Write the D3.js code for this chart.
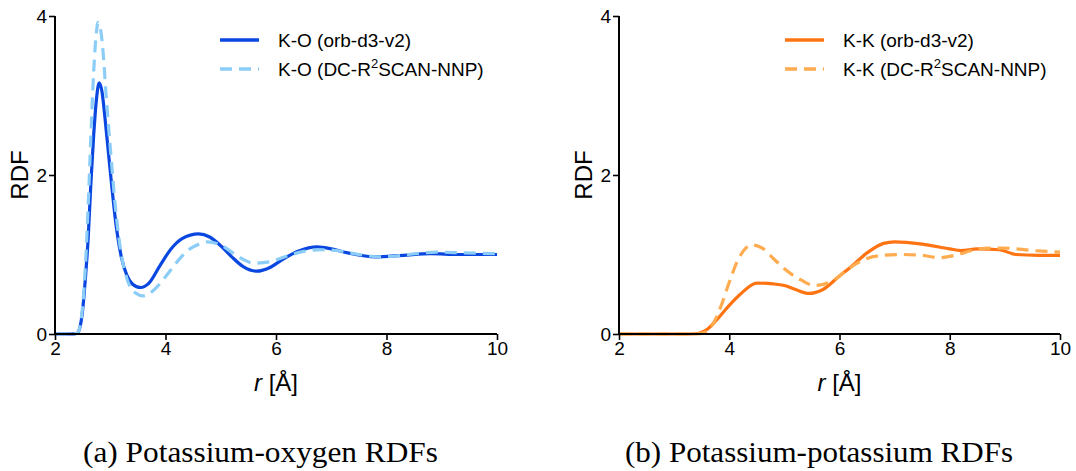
<!DOCTYPE html>
<html lang="en">
<head>
<meta charset="utf-8">
<title>K RDFs</title>
<script src="https://cdn.jsdelivr.net/npm/d3@7"></script>
<style>
  body { margin: 0; background: #fff; }
  text { font-family: "Liberation Sans", Arial, sans-serif; fill: #000; }
  text.caption { font-family: "Liberation Serif", "DejaVu Serif", serif; }
</style>
</head>
<body>
<script>
// K-O, orb-d3-v2
var koOrbR = [2.0, 2.3, 2.4, 2.45, 2.5, 2.55, 2.6, 2.65, 2.7, 2.75, 2.8, 2.85, 2.9, 2.95, 3.0, 3.1, 3.2, 3.3, 3.4, 3.55, 3.7, 3.9, 4.1, 4.3, 4.6, 4.8, 5.0, 5.2, 5.4, 5.65, 5.9, 6.1, 6.4, 6.75, 7.0, 7.3, 7.8, 8.3, 8.8, 9.3, 10];
var koOrbG = [0, 0, 0.01, 0.08, 0.3, 0.7, 1.2, 1.9, 2.5, 2.95, 3.16, 3.05, 2.75, 2.4, 2.05, 1.4, 0.97, 0.74, 0.63, 0.585, 0.64, 0.86, 1.07, 1.2, 1.26, 1.22, 1.11, 0.97, 0.85, 0.79, 0.84, 0.93, 1.04, 1.095, 1.07, 1.02, 0.97, 0.99, 1.01, 1.0, 1.0];
// K-O, DC-r2SCAN-NNP
var koNnpR = [2.0, 2.3, 2.4, 2.45, 2.5, 2.55, 2.6, 2.65, 2.7, 2.75, 2.78, 2.82, 2.87, 2.92, 3.0, 3.1, 3.2, 3.3, 3.45, 3.6, 3.8, 4.0, 4.2, 4.4, 4.6, 4.75, 5.0, 5.2, 5.4, 5.6, 5.9, 6.2, 6.5, 6.8, 7.1, 7.5, 7.9, 8.4, 8.9, 9.4, 10];
var koNnpG = [0, 0, 0.01, 0.09, 0.35, 0.85, 1.6, 2.5, 3.3, 3.8, 3.92, 3.85, 3.55, 3.05, 2.35, 1.55, 1.0, 0.7, 0.52, 0.48, 0.56, 0.72, 0.9, 1.05, 1.13, 1.16, 1.12, 1.03, 0.94, 0.89, 0.91, 0.98, 1.04, 1.06, 1.05, 1.0, 0.97, 1.0, 1.03, 1.02, 1.01];
// K-K, orb-d3-v2
var kkOrbR = [2.0, 3.3, 3.45, 3.6, 3.8, 4.0, 4.2, 4.5, 4.8, 5.0, 5.2, 5.45, 5.7, 6.0, 6.2, 6.5, 6.8, 7.0, 7.5, 8.0, 8.2, 8.5, 8.9, 9.2, 9.6, 10];
var kkOrbG = [0, 0, 0.01, 0.06, 0.2, 0.36, 0.5, 0.64, 0.63, 0.61, 0.56, 0.51, 0.56, 0.73, 0.84, 1.02, 1.14, 1.16, 1.13, 1.07, 1.05, 1.07, 1.06, 1.0, 0.99, 0.99];
// K-K, DC-r2SCAN-NNP
var kkNnpR = [2.0, 3.4, 3.55, 3.7, 3.85, 4.0, 4.15, 4.3, 4.42, 4.6, 4.8, 5.0, 5.3, 5.55, 5.9, 6.2, 6.5, 6.8, 7.1, 7.5, 7.8, 8.1, 8.4, 8.7, 9.0, 9.5, 10];
var kkNnpG = [0, 0, 0.02, 0.12, 0.35, 0.65, 0.92, 1.08, 1.12, 1.08, 0.95, 0.82, 0.68, 0.61, 0.68, 0.84, 0.95, 0.99, 1.0, 0.99, 0.96, 0.99, 1.05, 1.08, 1.08, 1.05, 1.03];

var xTicks = [2, 4, 6, 8, 10];
var yTicks = [0, 2, 4];
var koLabels = ["K-O (orb-d3-v2)", "K-O (DC-R", "SCAN-NNP)"];
var kkLabels = ["K-K (orb-d3-v2)", "K-K (DC-R", "SCAN-NNP)"];
var captions = ["(a) Potassium-oxygen RDFs", "(b) Potassium-potassium RDFs"];

var w = 1076, h = 471;
var svg = d3.select("body").append("svg")
    .attr("width", w).attr("height", h);

function zip(r, g) {
    return r.map(function(d, i) { return [d, g[i]]; });
}

function panel(x0, x1, series, labels, caption, legX, capX, capW) {
    var x = d3.scaleLinear().domain([2, 10]).range([x0, x1]);
    var y = d3.scaleLinear().domain([0, 4]).range([334, 16]);
    var g = svg.append("g");

    var line = d3.line()
        .x(function(d) { return x(d[0]); })
        .y(function(d) { return y(d[1]); })
        .curve(d3.curveMonotoneX);

    series.forEach(function(s) {
        g.append("path")
            .datum(zip(s.r, s.g))
            .attr("d", line)
            .attr("fill", "none")
            .attr("stroke", s.color)
            .attr("stroke-width", 3.2)
            .attr("stroke-dasharray", s.dash ? "12,7" : null);
    });

    var xAxis = g.append("g")
        .attr("transform", "translate(0,334)")
        .call(d3.axisBottom(x).tickValues(xTicks).tickSize(6).tickPadding(2).tickFormat(d3.format("d")));
    var yAxis = g.append("g")
        .attr("transform", "translate(" + x0 + ",0)")
        .call(d3.axisLeft(y).tickValues(yTicks).tickSize(6).tickPadding(2).tickFormat(d3.format("d")));
    [xAxis, yAxis].forEach(function(a) {
        a.selectAll(".tick line").attr("stroke-width", 1.6);
        a.selectAll("text").attr("font-size", 19);
    });
    xAxis.select(".domain").attr("stroke-width", 2).attr("d", "M" + x0 + ",0H" + x1);
    yAxis.select(".domain").attr("stroke-width", 2).attr("d", "M0,334V16");

    // axis titles
    var xt = g.append("text")
        .attr("x", (x0 + x1) / 2).attr("y", 391)
        .attr("text-anchor", "middle").attr("font-size", 24);
    xt.append("tspan").attr("font-style", "italic").text("r");
    xt.append("tspan").text(" [Å]");

    g.append("text")
        .attr("transform", "translate(" + (x0 - 27) + ",175) rotate(-90)")
        .attr("text-anchor", "middle").attr("font-size", 24)
        .text("RDF");

    // legend
    series.forEach(function(s, i) {
        var ly = 40 + i * 29;
        g.append("line")
            .attr("x1", legX).attr("x2", legX + 39)
            .attr("y1", ly).attr("y2", ly)
            .attr("stroke", s.color).attr("stroke-width", 3.5)
            .attr("stroke-dasharray", s.dash ? "12,7" : null);
        var t = g.append("text")
            .attr("x", legX + 58).attr("y", ly + 7)
            .attr("font-size", 19);
        if (i === 0) {
            t.text(labels[0]);
        } else {
            t.append("tspan").text(labels[1]);
            t.append("tspan").attr("font-size", 13).attr("dy", -8).text("2");
            t.append("tspan").attr("dy", 8).text(labels[2]);
        }
    });

    svg.append("text")
        .attr("class", "caption")
        .attr("x", capX).attr("y", 462)
        .attr("font-size", 29)
        .attr("textLength", capW).attr("lengthAdjust", "spacingAndGlyphs")
        .text(caption);
}

panel(55, 497, [
    { r: koOrbR, g: koOrbG, color: "#0a47e0", dash: false },
    { r: koNnpR, g: koNnpG, color: "#8ccdf8", dash: true }
], koLabels, captions[0], 220, 83, 355);

panel(619, 1060, [
    { r: kkOrbR, g: kkOrbG, color: "#ff7412", dash: false },
    { r: kkNnpR, g: kkNnpG, color: "#ffab4f", dash: true }
], kkLabels, captions[1], 785, 625, 388);
</script>
</body>
</html>
